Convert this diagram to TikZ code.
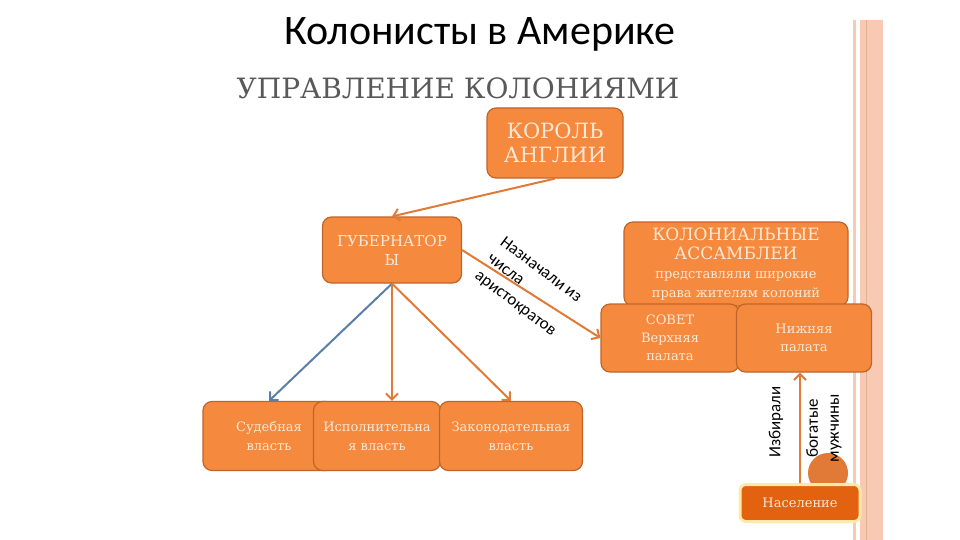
\documentclass[tikz,border=0pt]{standalone}
\usepackage{fontspec}
\setmainfont{DejaVu Serif}
\newfontfamily\calib{Carlito}
\usetikzlibrary{arrows.meta,positioning,calc}
\definecolor{Box}{HTML}{F58A3F}
\definecolor{BoxEdge}{HTML}{C0652A}
\definecolor{Cream}{HTML}{FCE8D6}
\definecolor{Arrow}{HTML}{E07A36}
\definecolor{Steel}{HTML}{5B7FA6}
\definecolor{Dark}{HTML}{E2620F}
\definecolor{Glow}{HTML}{FFE9A8}
\definecolor{Stripe}{HTML}{F8C9B3}
\definecolor{Head}{HTML}{595959}

\tikzset{
  orgbox/.style={draw=BoxEdge,line width=1.2pt,fill=Box,rounded corners=9pt,
    text=Cream,align=center,inner sep=0pt},
  link/.style={draw=Arrow,line width=2pt,-{Straight Barb[length=6pt,width=12pt]}},
  note/.style={font=\calib\fontsize{17}{21}\selectfont},
}

\begin{document}
\begin{tikzpicture}[x=1pt,y=-1pt]
  \fill[white] (0,0) rectangle (960,540);
  \useasboundingbox (0,0) rectangle (960,540);
  % side stripes
  \fill[Stripe] (853,20) rectangle (856,540);
  \fill[Stripe] (860,20) rectangle (883,540);
  \draw[BoxEdge!50,line width=0.8pt] (866,20) -- (866,540);

  \node[font=\calib\fontsize{42}{46}\selectfont] (title) at (480,34) {Колонисты в Америке};
  \node[font=\fontsize{28}{32}\selectfont,text=Head] (sub) at (458,88) {УПРАВЛЕНИЕ КОЛОНИЯМИ};

  \node[orgbox,minimum width=136pt,minimum height=70pt,font=\fontsize{21}{24}\selectfont] (king) at (555,143) {КОРОЛЬ\\АНГЛИИ};
  \node[orgbox,minimum width=139pt,minimum height=66pt,font=\fontsize{15}{19}\selectfont] (gov) at (392,250) {ГУБЕРНАТОР\\Ы};

  \node[orgbox,minimum width=132pt,minimum height=69pt,font=\fontsize{13}{19}\selectfont] (sud) at (269,436) {Судебная\\власть};
  \node[orgbox,minimum width=127pt,minimum height=69pt,font=\fontsize{13}{19}\selectfont] (ispol) at (377,436) {Исполнительна\\я власть};
  \node[orgbox,minimum width=143pt,minimum height=69pt,font=\fontsize{13}{19}\selectfont] (zakon) at (511,436) {Законодательная\\власть};

  \node[orgbox,minimum width=224pt,minimum height=84pt,font=\fontsize{17}{19}\selectfont] (assem) at (736,264)
    {КОЛОНИАЛЬНЫЕ\\АССАМБЛЕИ\\{\fontsize{13}{18}\selectfont представляли широкие}\\{\fontsize{13}{18}\selectfont права жителям колоний}};
  \node[orgbox,minimum width=138pt,minimum height=68pt,font=\fontsize{13}{18}\selectfont] (sovet) at (670,338) {СОВЕТ\\Верхняя\\палата};
  \node[orgbox,minimum width=135pt,minimum height=68pt,font=\fontsize{13}{18}\selectfont] (lower) at (804,338) {Нижняя\\палата};

  \fill[Arrow] (828,473) circle[radius=20pt];
  \node[orgbox,draw=Glow,fill=Dark,line width=3pt,rounded corners=6pt,minimum width=120pt,minimum height=37pt,
    font=\fontsize{13}{16}\selectfont] (nas) at (800,503) {Население};

  \draw[link] (king.south) -- (gov.north);
  \draw[link] (gov.east) -- (sovet.west);
  \draw[link,draw=Steel] (gov.south) -- (sud.north);
  \draw[link] (gov.south) -- (gov.south |- ispol.north);
  \draw[link] (gov.south) -- (zakon.north);
  \draw[link] (nas.north) -- (nas.north |- lower.south);

  \node[note,rotate=-37,align=left] (appoint) at (528,287) {Назначали из\\числа\\аристократов};
  \node[note,rotate=90] (elect) at (776,422) {Избирали};
  \node[note,rotate=90,align=center] (rich) at (824,428) {богатые\\мужчины};
\end{tikzpicture}
\end{document}
